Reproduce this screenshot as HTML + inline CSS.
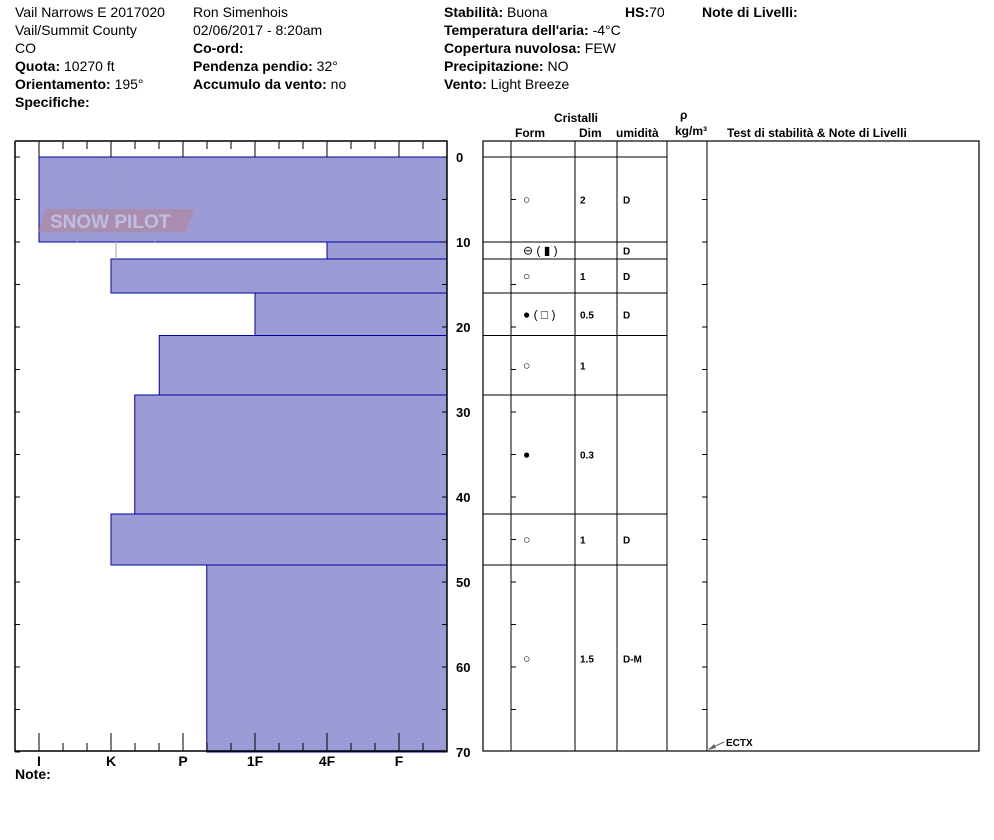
<!DOCTYPE html>
<html><head><meta charset="utf-8"><style>
body{margin:0;background:#fff;width:994px;height:840px;overflow:hidden;font-family:"Liberation Sans",Arial,sans-serif}
svg{position:absolute;left:0;top:0}
</style></head><body>
<svg id="chart" width="994" height="840" xmlns="http://www.w3.org/2000/svg" font-family="Liberation Sans, Arial, sans-serif">
<g font-size="14" fill="#000">
<text x="15" y="17">Vail Narrows E 2017020</text>
<text x="15" y="35">Vail/Summit County</text>
<text x="15" y="53">CO</text>
<text x="15" y="71"><tspan font-weight="bold">Quota:</tspan> 10270 ft</text>
<text x="15" y="89"><tspan font-weight="bold">Orientamento:</tspan> 195°</text>
<text x="15" y="107" font-weight="bold">Specifiche:</text>
<text x="193" y="17">Ron Simenhois</text>
<text x="193" y="35">02/06/2017 - 8:20am</text>
<text x="193" y="53" font-weight="bold">Co-ord:</text>
<text x="193" y="71"><tspan font-weight="bold">Pendenza pendio:</tspan> 32°</text>
<text x="193" y="89"><tspan font-weight="bold">Accumulo da vento:</tspan> no</text>
<text x="444" y="17"><tspan font-weight="bold">Stabilità:</tspan> Buona</text>
<text x="625" y="17"><tspan font-weight="bold">HS:</tspan>70</text>
<text x="702" y="17" font-weight="bold">Note di Livelli:</text>
<text x="444" y="35"><tspan font-weight="bold">Temperatura dell'aria:</tspan> -4°C</text>
<text x="444" y="53"><tspan font-weight="bold">Copertura nuvolosa:</tspan> FEW</text>
<text x="444" y="71"><tspan font-weight="bold">Precipitazione:</tspan> NO</text>
<text x="444" y="89"><tspan font-weight="bold">Vento:</tspan>  Light Breeze</text>
</g>
<g font-size="12" font-weight="bold">
<text x="554" y="122">Cristalli</text>
<text x="515" y="137">Form</text>
<text x="579" y="137">Dim</text>
<text x="616" y="137">umidità</text>
<text x="680" y="119">ρ</text>
<text x="675" y="135">kg/m³</text>
<text x="727" y="137">Test di stabilità &amp; Note di Livelli</text>
</g>
<g id="bars"></g>
<g id="axes"></g>
<g id="table"></g>
<g opacity="0.45">
<g stroke="#8fa0b8" stroke-width="2" fill="none">
<line x1="116" y1="172" x2="116" y2="265"/><line x1="76" y1="195" x2="156" y2="242"/><line x1="76" y1="242" x2="156" y2="195"/>
</g>
<polygon points="45,209 195,209 185,232 38,232" fill="#c08080"/>
<text x="50" y="228" font-size="19" fill="#e8e8f0" font-weight="bold">SNOW PILOT</text>
</g>
<g font-size="14" font-weight="bold" text-anchor="middle" id="xlabels"></g>
<text x="15" y="779" font-size="14" font-weight="bold">Note:</text>
<g>
<line x1="709" y1="749" x2="724" y2="742" stroke="#666" stroke-width="1"/>
<polygon points="708,750 714,744 716,748" fill="#666"/>
<text x="726" y="746" font-size="10" font-weight="bold">ECTX</text>
</g>
</svg>
<script>
const layerTop=[0,10,12,16,21,28,42,48];
const layerBottom=[10,12,16,21,28,42,48,70];
const hardness=[0,4,1,3,1.67,1.33,1,2.33];
const hardLabels=["I","K","P","1F","4F","F"];
const depthTicks=[0,10,20,30,40,50,60,70];
const grainForm=["○","⊖ ( ▮ )","○","● ( □ )","○","●","○","○"];
const grainSize=["2","","1","0.5","1","0.3","1","1.5"];
const moisture=["D","D","D","D","","","D","D-M"];
const NS="http://www.w3.org/2000/svg";
const y=d=>157+d*8.5;
const x=h=>39+h*72;
const X0=15,X1=447,Y0=141,Y1=751;
function mk(p,t,a){const e=document.createElementNS(NS,t);for(const k in a)e.setAttribute(k,a[k]);p.appendChild(e);return e;}
const bars=document.getElementById('bars');
for(let i=0;i<layerTop.length;i++){
 const r=mk(bars,'rect',{x:x(hardness[i]),y:y(layerTop[i]),width:X1-x(hardness[i]),height:y(layerBottom[i])-y(layerTop[i]),fill:'#9b9bd6',stroke:'#0000a0','stroke-width':1});
 
 
}
const ax=document.getElementById('axes');
mk(ax,'polyline',{points:`${X0},${Y0} ${X1},${Y0} ${X1},${Y1} ${X0},${Y1} ${X0},${Y0}`,fill:'none',stroke:'#000','stroke-width':1.5});
for(let k=0;k<=17;k++){const xx=39+k*24;if(xx>X1)break;const major=k%3==0;
 mk(ax,'line',{x1:xx,y1:Y0,x2:xx,y2:Y0+(major?16:8),stroke:'#000'});
 mk(ax,'line',{x1:xx,y1:Y1,x2:xx,y2:Y1-(major?18:8),stroke:'#000'});}
const xl=document.getElementById('xlabels');
hardLabels.forEach((l,i)=>{const t=mk(xl,'text',{x:x(i),y:766});t.textContent=l;
 
 });
for(let d=0;d<=70;d+=5){mk(ax,'line',{x1:X0,y1:y(d),x2:X0+5,y2:y(d),stroke:'#000'});mk(ax,'line',{x1:X1-5,y1:y(d),x2:X1,y2:y(d),stroke:'#000'});}
depthTicks.forEach(d=>{const t=mk(ax,'text',{x:456,y:y(d)+5,'font-size':13,'font-weight':'bold'});t.textContent=d;
 
 });
const tb=document.getElementById('table');
mk(tb,'rect',{x:483,y:Y0,width:496,height:Y1-Y0,fill:'none',stroke:'#000','stroke-width':1.2});
[511,575,617,667,707].forEach(c=>mk(tb,'line',{x1:c,y1:Y0,x2:c,y2:Y1,stroke:'#000'}));
mk(tb,'line',{x1:483,y1:157,x2:667,y2:157,stroke:'#000'});
for(let d=5;d<70;d+=5){mk(tb,'line',{x1:511,y1:y(d),x2:516,y2:y(d),stroke:'#000'});mk(tb,'line',{x1:702,y1:y(d),x2:707,y2:y(d),stroke:'#000'});}
for(let i=0;i<layerTop.length;i++){
 if(i>0){mk(tb,'line',{x1:511,y1:y(layerTop[i]),x2:667,y2:y(layerTop[i]),stroke:'#000'});
  mk(tb,'line',{x1:483,y1:y(layerTop[i]),x2:511,y2:y(layerTop[i]),stroke:'#000'});}
 const cy=(y(layerTop[i])+y(layerBottom[i]))/2+4;
 const g=mk(tb,'g',{'font-size':10,'font-weight':'bold'});
 
 
 mk(g,'text',{x:523,y:cy,'font-size':12,'font-weight':'normal'}).textContent=grainForm[i];
 mk(g,'text',{x:580,y:cy}).textContent=grainSize[i];
 mk(g,'text',{x:623,y:cy}).textContent=moisture[i];
}
</script>
</body></html>
